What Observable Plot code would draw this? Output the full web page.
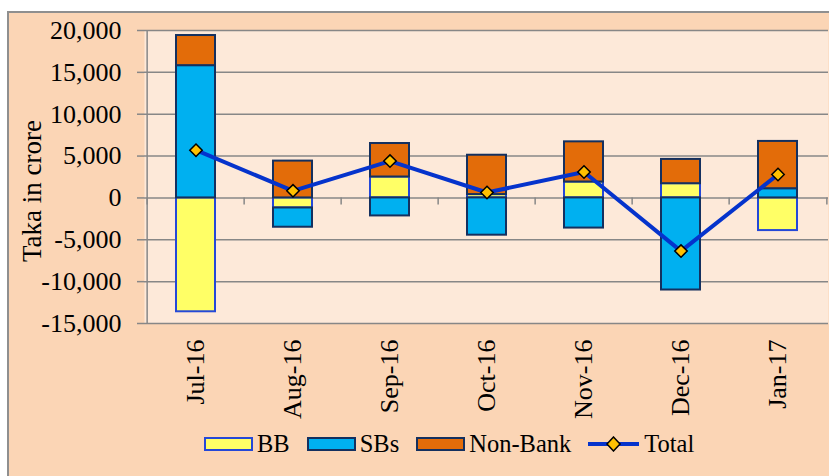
<!DOCTYPE html>
<html>
<head>
<meta charset="utf-8">
<script src="https://cdn.jsdelivr.net/npm/d3@7"></script>
<script src="https://cdn.jsdelivr.net/npm/@observablehq/plot@0.6"></script>
<style>
  html, body { margin: 0; padding: 0; background: #ffffff; width: 829px; height: 476px; overflow: hidden; }
  #bg { position: absolute; left: 7px; top: 11px; width: 840px; height: 480px; background: #FBD5B5;
        border-left: 2px solid #8f8f8f; border-top: 2px solid #8f8f8f; }
  #chart { position: absolute; left: 0; top: 0; }
  #legend { position: absolute; left: 204px; top: 432px; height: 24px; display: flex; align-items: center;
            font-family: "Liberation Serif", "Times New Roman", serif; font-size: 24.5px; color: #000; line-height: 24px; }
  .sw { display: inline-block; width: 49px; height: 14px; box-sizing: border-box; border: 2px solid; margin-right: 4px; }
  .lab { margin-right: 17px; }
</style>
</head>
<body>
<div id="bg"></div>
<div id="chart"></div>
<div id="legend"></div>
<script>
const months = ["Jul-16", "Aug-16", "Sep-16", "Oct-16", "Nov-16", "Dec-16", "Jan-17"];
const seriesNames = ["BB", "SBs", "Non-Bank"];
const bb      = [-13600, -1200, 2500,   400,  1900,   1700, -3900];
const sbs     = [ 15800, -2300, -2150, -4450, -3600, -11000,  1100];
const nonBank = [  3600,  4400, 4000,   4700,  4800,   2900,  5650];
const total   = [  5700,   850, 4400,    650,  3100,  -6350,  2800];
const yTicks  = [-15000, -10000, -5000, 0, 5000, 10000, 15000, 20000];

const fills   = {"BB": "#FFFF66", "SBs": "#00B0F0", "Non-Bank": "#E36C09"};
const strokes = {"BB": "#2448D8", "SBs": "#14305F", "Non-Bank": "#14305F"};
const lineColor = "#0533CC";
const markerFill = "#FFC000";

const seriesValues = {"BB": bb, "SBs": sbs, "Non-Bank": nonBank};
const rows = [];
months.forEach((m, i) => {
  seriesNames.forEach(s => rows.push({month: m, series: s, value: seriesValues[s][i]}));
});
const totals = months.map((m, i) => ({month: m, value: total[i]}));

const W = 829, H = 420;
const mL = 144, mR = 1, mT = 30, mB = 97;
const step = (W - mL - mR) / months.length;

const plot = Plot.plot({
  width: W,
  height: H,
  marginLeft: mL,
  marginRight: mR,
  marginTop: mT,
  marginBottom: mB,
  style: {fontFamily: "'Liberation Serif', 'Times New Roman', serif", fontSize: "26px", background: "transparent", color: "#000", overflow: "visible"},
  x: {type: "band", domain: months, paddingInner: 0.6, paddingOuter: 0.3, label: null},
  y: {domain: [-15000, 20000], label: null},
  marks: [
    Plot.frame({fill: "#FDE9D9", stroke: "none"}),
    Plot.ruleY(yTicks, {stroke: "#878787", strokeWidth: 1.5}),
    Plot.axisY({ticks: yTicks, tickSize: 7, tickPadding: 16, stroke: "#878787", strokeWidth: 1.5,
                tickFormat: d => d.toLocaleString("en-US"), fontSize: 26, label: null}),
    Plot.ruleX([months[0]], {dx: -step / 2, stroke: "#878787", strokeWidth: 1.5}),
    Plot.ruleX(months, {x: d => d, y1: 0, y2: -850, dx: -step / 2, stroke: "#878787", strokeWidth: 1.5}),
    Plot.ruleX([months[months.length - 1]], {y1: 0, y2: -850, dx: step / 2, stroke: "#878787", strokeWidth: 1.5}),
    Plot.axisX({tickSize: 0, tickPadding: 16, tickRotate: -90, fontSize: 26, label: null}),
    Plot.text(["Taka in crore"], {frameAnchor: "left", textAnchor: "middle", rotate: -90, dx: -112, dy: 14, fontSize: 27, fill: "#000"}),
    Plot.barY(rows, {x: "month", y: "value", z: "series",
                     fill: d => fills[d.series], stroke: d => strokes[d.series], strokeWidth: 2}),
    Plot.line(totals, {x: "month", y: "value", stroke: lineColor, strokeWidth: 4, strokeLinejoin: "round"}),
    Plot.dot(totals, {x: "month", y: "value", symbol: "diamond2", r: 5.6, fill: markerFill, stroke: "#000", strokeWidth: 1.5})
  ]
});
document.getElementById("chart").appendChild(plot);

// Legend
const legend = document.getElementById("legend");
seriesNames.forEach(s => {
  const sw = document.createElement("span");
  sw.className = "sw";
  sw.style.background = fills[s];
  sw.style.borderColor = strokes[s];
  const lab = document.createElement("span");
  lab.className = "lab";
  lab.textContent = s;
  legend.appendChild(sw);
  legend.appendChild(lab);
});
const ns = "http://www.w3.org/2000/svg";
const lsv = document.createElementNS(ns, "svg");
lsv.setAttribute("width", 51);
lsv.setAttribute("height", 16);
lsv.style.marginRight = "5px";
const ln = document.createElementNS(ns, "line");
ln.setAttribute("x1", 0); ln.setAttribute("x2", 51); ln.setAttribute("y1", 8); ln.setAttribute("y2", 8);
ln.setAttribute("stroke", lineColor); ln.setAttribute("stroke-width", 4);
lsv.appendChild(ln);
const dm = document.createElementNS(ns, "path");
dm.setAttribute("d", "M25.5,1 L32,8 L25.5,15 L19,8 Z");
dm.setAttribute("fill", markerFill); dm.setAttribute("stroke", "#000"); dm.setAttribute("stroke-width", 1.5);
lsv.appendChild(dm);
legend.appendChild(lsv);
const tl = document.createElement("span");
tl.textContent = "Total";
legend.appendChild(tl);
</script>
</body>
</html>
